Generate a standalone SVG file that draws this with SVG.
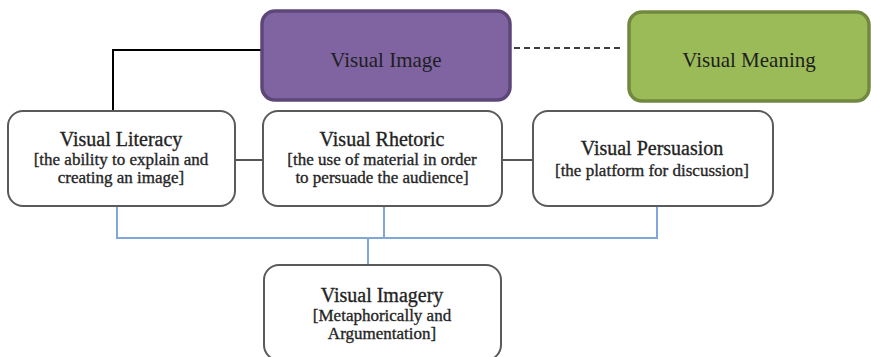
<svg xmlns="http://www.w3.org/2000/svg" width="871" height="357" viewBox="0 0 871 357">
  <style>
    .box { fill: #ffffff; stroke: #5a5a5a; stroke-width: 2; }
    .t { font-family: 'Liberation Serif', 'DejaVu Serif', serif; text-anchor: middle; fill: #1e1e1e; }
    .w { stroke: #2a2a2a; stroke-width: 0.35; }
    .title { font-size: 20px; }
    .sub { font-size: 17px; }
    .blue { fill: none; stroke: #7fa7d9; stroke-width: 2; }
    .gray { fill: none; stroke: #555555; stroke-width: 2; }
  </style>

  <!-- connectors -->
  <g id="connectors">
    <polyline points="261,50 113,50 113,111" fill="none" stroke="#000" stroke-width="2"/>
    <line x1="514" y1="48" x2="620" y2="48" stroke="#000" stroke-width="1.6" stroke-dasharray="6,4"/>
    <line class="gray" x1="235" y1="160" x2="263" y2="160"/>
    <line class="gray" x1="502" y1="160" x2="533" y2="160"/>
    <polyline class="blue" points="117,206 117,238 657,238 657,206"/>
    <line class="blue" x1="384" y1="206" x2="384" y2="238"/>
    <line class="blue" x1="368" y1="238" x2="368" y2="265"/>
  </g>

  <g id="visual-image">
    <rect x="262" y="11" width="248" height="89" rx="13" fill="#8064a2" stroke="#5d4778" stroke-width="3.5"/>
    <text class="t" x="386" y="67" font-size="21">Visual Image</text>
  </g>

  <g id="visual-meaning">
    <rect x="629" y="12" width="240" height="89" rx="13" fill="#9bbb59" stroke="#71893f" stroke-width="3.5"/>
    <text class="t" x="749" y="67" font-size="21">Visual Meaning</text>
  </g>

  <g id="visual-literacy">
    <rect class="box" x="8" y="111" width="227" height="95" rx="15"/>
    <text class="t w title" x="121" y="146">Visual Literacy</text>
    <text class="t w sub" x="121" y="165">[the ability to explain and</text>
    <text class="t w sub" x="121" y="183">creating an image]</text>
  </g>

  <g id="visual-rhetoric">
    <rect class="box" x="263" y="111" width="239" height="95" rx="15"/>
    <text class="t w title" x="382" y="146">Visual Rhetoric</text>
    <text class="t w sub" x="382" y="165">[the use of material in order</text>
    <text class="t w sub" x="382" y="183">to persuade the audience]</text>
  </g>

  <g id="visual-persuasion">
    <rect class="box" x="533" y="111" width="240" height="95" rx="15"/>
    <text class="t w title" x="652" y="155">Visual Persuasion</text>
    <text class="t w sub" x="652" y="176">[the platform for discussion]</text>
  </g>

  <g id="visual-imagery">
    <rect class="box" x="264" y="265" width="237" height="95" rx="15"/>
    <text class="t w title" x="382" y="302">Visual Imagery</text>
    <text class="t w sub" x="382" y="321">[Metaphorically and</text>
    <text class="t w sub" x="382" y="339">Argumentation]</text>
  </g>
</svg>
